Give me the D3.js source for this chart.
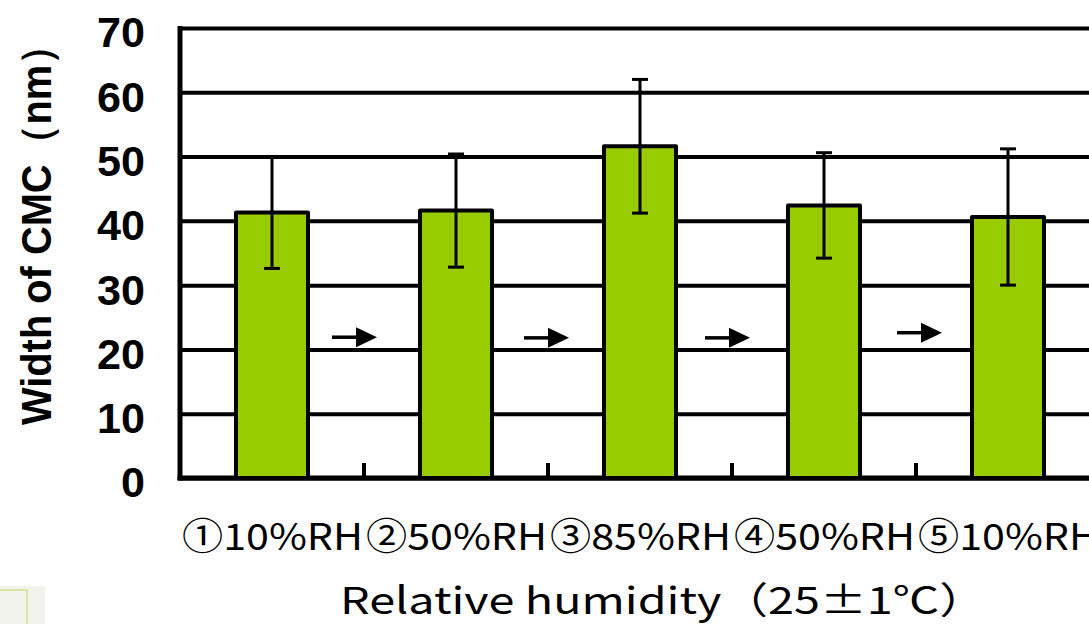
<!DOCTYPE html>
<html>
  <head>
    <title>Width of CMC</title>
    <style type="text/css">
        body{ margin: 0; background: #fff; }
        svg{ display: block; }
        .ytick text{ font-family: "Liberation Sans", Arial, sans-serif; font-weight: bold; font-size: 43px; fill: #000; }
        .cat{ font-family: "Noto Sans CJK JP", "Liberation Sans", sans-serif; font-size: 37px; fill: #000; }
    </style>
  </head>
  <body>
    <div id="chart"></div>
    <script src="https://cdn.jsdelivr.net/npm/d3@7"></script>
    <script>
        // data
        var categories = ["①10%RH", "②50%RH", "③85%RH", "④50%RH", "⑤10%RH"];
        var means = [41.3, 41.6, 51.6, 42.4, 40.6];
        var sds = [8.7, 8.8, 10.4, 8.2, 10.6];
        var yTicks = [0, 10, 20, 30, 40, 50, 60, 70];
        var arrowLevels = [21.9, 21.8, 21.8, 22.6];

        var width = 1089, height = 624;
        var plotLeft = 180, plotRight = 1100, plotTop = 28, plotBottom = 478;

        var svg = d3.select("#chart").append("svg")
            .attr("width", width)
            .attr("height", height);

        var x = d3.scaleBand().domain(categories).range([plotLeft, plotRight]);
        var y = d3.scaleLinear().domain([0, 70]).range([plotBottom, plotTop]);

        //  gridlines + tick labels
        var yAxis = svg.append("g")
            .attr("class", "ytick")
            .attr("transform", "translate(" + plotLeft + ",0)")
            .call(d3.axisLeft(y).tickValues(yTicks).tickSize(-(plotRight - plotLeft)).tickPadding(35));
        yAxis.select(".domain").remove();
        yAxis.selectAll("line").attr("stroke", "#000").attr("stroke-width", 4);
        yAxis.selectAll("text").attr("dy", "0.44em")
            .attr("textLength", 48).attr("lengthAdjust", "spacingAndGlyphs");
        yAxis.selectAll(".tick").filter(d => d == 0).select("text").attr("textLength", 24);

        //  axis lines
        svg.append("line").attr("x1", plotLeft).attr("x2", plotLeft).attr("y1", plotTop - 2).attr("y2", plotBottom + 2.5)
            .attr("stroke", "#000").attr("stroke-width", 5);
        svg.append("line").attr("x1", plotLeft - 2.5).attr("x2", plotRight).attr("y1", plotBottom).attr("y2", plotBottom)
            .attr("stroke", "#000").attr("stroke-width", 5);

        //  small category ticks on the x axis
        svg.append("g").selectAll("line")
            .data(categories.slice(1))
            .enter().append("line")
                .attr("x1", d => x(d)).attr("x2", d => x(d))
                .attr("y1", plotBottom).attr("y2", plotBottom - 15)
                .attr("stroke", "#000").attr("stroke-width", 4);

        //  bars
        var barW = 72;
        svg.append("g").selectAll("rect")
            .data(categories)
            .enter().append("rect")
                .attr("x", d => x(d) + (x.bandwidth() - barW) / 2)
                .attr("y", (d, i) => y(means[i]))
                .attr("width", barW)
                .attr("height", (d, i) => plotBottom - y(means[i]))
                .attr("fill", "#99CC00")
                .attr("stroke", "#000")
                .attr("stroke-width", 4)
                .attr("stroke-linejoin", "round");

        //  error bars
        var err = svg.append("g").attr("stroke", "#000").attr("stroke-width", 3);
        categories.forEach(function (c, i) {
            var cx = x(c) + x.bandwidth() / 2;
            var hi = y(means[i] + sds[i]), lo = y(means[i] - sds[i]);
            err.append("line").attr("x1", cx).attr("x2", cx).attr("y1", hi).attr("y2", lo);
            err.append("line").attr("x1", cx - 8).attr("x2", cx + 8).attr("y1", hi).attr("y2", hi);
            err.append("line").attr("x1", cx - 8).attr("x2", cx + 8).attr("y1", lo).attr("y2", lo);
        });

        //  arrows between the steps
        var arrowShift = [-10, -2, -5, 3];
        var arrows = svg.append("g");
        categories.slice(1).forEach(function (c, i) {
            var cx = x(c) + arrowShift[i], cy = y(arrowLevels[i]);
            arrows.append("line")
                .attr("x1", cx - 22).attr("x2", cx + 4)
                .attr("y1", cy).attr("y2", cy)
                .attr("stroke", "#000").attr("stroke-width", 3.5);
            arrows.append("path")
                .attr("d", "M" + (cx + 2) + "," + (cy - 10) + "L" + (cx + 23) + "," + cy + "L" + (cx + 2) + "," + (cy + 10) + "Z")
                .attr("fill", "#000");
        });

        //  category labels (one running line under the axis)
        svg.append("g").selectAll("text")
            .data(categories)
            .enter().append("text")
                .attr("class", "cat")
                .attr("x", d => x(d) + 2)
                .attr("y", 550)
                .attr("textLength", 181)
                .attr("lengthAdjust", "spacingAndGlyphs")
                .text(d => d);

        //  axis titles
        svg.append("text")
            .attr("class", "cat")
            .attr("x", 340).attr("y", 614)
            .attr("font-size", "42px")
            .attr("textLength", 646)
            .attr("lengthAdjust", "spacingAndGlyphs")
            .text("Relative humidity（25±1℃）");

        svg.append("text")
            .attr("transform", "translate(51,425) rotate(-90)")
            .attr("font-family", "'Liberation Sans', Arial, sans-serif")
            .attr("font-weight", "bold")
            .attr("font-size", "42px")
            .attr("textLength", 400)
            .attr("lengthAdjust", "spacingAndGlyphs")
            .text("Width of CMC（nm）");

        //  scrap of an image in the lower left corner
        svg.append("rect").attr("x", 0).attr("y", 586).attr("width", 45).attr("height", 40)
            .attr("fill", "#f3f3ee");
        svg.append("path").attr("d", "M0,590H27V624")
            .attr("fill", "none").attr("stroke", "#d8e6a0").attr("stroke-width", 2);
    </script>
  </body>
</html>
